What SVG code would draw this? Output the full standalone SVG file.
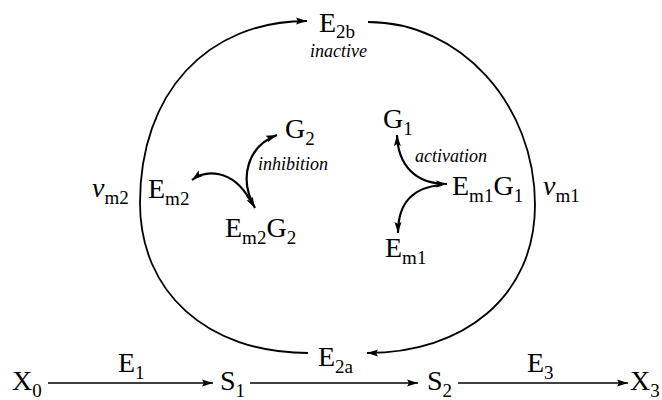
<svg xmlns="http://www.w3.org/2000/svg" width="662" height="400" viewBox="0 0 662 400" font-family="Liberation Serif, Times New Roman, Times, serif">
<style>
text{font-family:"Liberation Serif","Times New Roman",Times,serif}
.t{font-size:28px;fill:#000}
.s{font-size:19px}
.i{font-size:18px;font-style:italic;fill:#000}
.v{font-style:italic}
.arc{fill:none;stroke:#000;stroke-width:1.8}
.rx{fill:none;stroke:#000;stroke-width:1.6}
.bd{fill:none;stroke:#000;stroke-width:2.2}
</style>
<defs>
<marker id="ah" markerUnits="userSpaceOnUse" markerWidth="12" markerHeight="8" refX="11" refY="4" orient="auto-start-reverse">
<path d="M0,0.5 L11,4 L0,7.5 L2,4 z" fill="#000"/>
</marker>
</defs>
<rect width="662" height="400" fill="#fff"/>
<g id="connectors">
<path class="arc" d="M308,353 C207,353 140,292 140,203 C140,93 207,21 307,21" marker-end="url(#ah)"/>
<path class="arc" d="M368,22 C460,22 535,104 535,205 C535,297 463,353 367,353" marker-end="url(#ah)"/>
<path class="rx" d="M48,383 L213,383" marker-end="url(#ah)"/>
<path class="rx" d="M250,383 L418,383" marker-end="url(#ah)"/>
<path class="rx" d="M458,383 L628,383" marker-end="url(#ah)"/>
<path class="bd" d="M277,135 C248,146 238,178 255,208" marker-start="url(#ah)" marker-end="url(#ah)"/>
<path class="bd" d="M192,180 C205,170 232,168 250,200" marker-start="url(#ah)"/>
<path class="bd" d="M397,135 C398,165 415,184 447,184" marker-start="url(#ah)" marker-end="url(#ah)"/>
<path class="bd" d="M442,185 C415,187 398,200 398,233" marker-end="url(#ah)"/>
</g>
<g id="X0"><text class="t" x="12" y="390">X<tspan class="s" dy="7">0</tspan></text></g>
<g id="S1"><text class="t" x="220" y="390">S<tspan class="s" dy="7">1</tspan></text></g>
<g id="S2"><text class="t" x="427" y="390">S<tspan class="s" dy="7">2</tspan></text></g>
<g id="X3"><text class="t" x="630" y="390">X<tspan class="s" dy="7">3</tspan></text></g>
<g id="E1"><text class="t" x="118" y="372">E<tspan class="s" dy="7">1</tspan></text></g>
<g id="E3"><text class="t" x="527" y="372">E<tspan class="s" dy="7">3</tspan></text></g>
<g id="E2a"><text class="t" x="318" y="366">E<tspan class="s" dy="7">2a</tspan></text></g>
<g id="E2b"><text class="t" x="319" y="32">E<tspan class="s" dy="6">2b</tspan></text>
<text class="i" x="310" y="57">inactive</text></g>
<g id="G2"><text class="t" x="285" y="138">G<tspan class="s" dy="7">2</tspan></text></g>
<g id="inhibition"><text class="i" x="258" y="170">inhibition</text></g>
<g id="Em2"><text class="t" x="148" y="198">E<tspan class="s" dy="7">m2</tspan></text></g>
<g id="vm2"><text class="t" x="92" y="197"><tspan class="v">v</tspan><tspan class="s" dy="7">m2</tspan></text></g>
<g id="Em2G2"><text class="t" x="225" y="237">E<tspan class="s" dy="7">m2</tspan><tspan dy="-7">G</tspan><tspan class="s" dy="7">2</tspan></text></g>
<g id="G1"><text class="t" x="383" y="128">G<tspan class="s" dy="7">1</tspan></text></g>
<g id="activation"><text class="i" x="415" y="162">activation</text></g>
<g id="Em1G1"><text class="t" x="452" y="195">E<tspan class="s" dy="7">m1</tspan><tspan dy="-7">G</tspan><tspan class="s" dy="7">1</tspan></text></g>
<g id="vm1"><text class="t" x="543" y="195"><tspan class="v">v</tspan><tspan class="s" dy="7">m1</tspan></text></g>
<g id="Em1"><text class="t" x="385" y="257">E<tspan class="s" dy="7">m1</tspan></text></g>
</svg>
